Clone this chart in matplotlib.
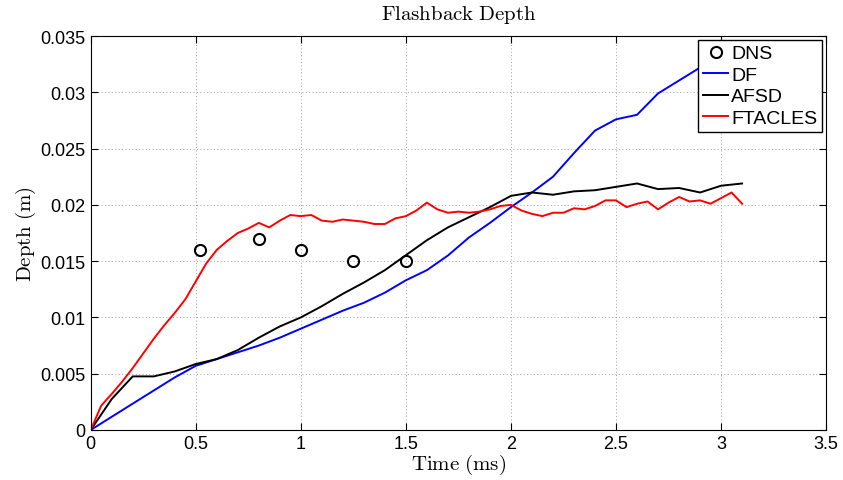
import matplotlib
matplotlib.use("Agg")
import matplotlib.pyplot as plt

plt.rcParams['font.family'] = ['Liberation Sans', 'DejaVu Sans']
plt.rcParams['mathtext.fontset'] = 'cm'

# DNS reference points
dns_t = [0.52, 0.80, 1.00, 1.25, 1.50]
dns_d = [0.016, 0.017, 0.016, 0.015, 0.015]

# DF
df_t = [0, 0.2, 0.4, 0.5, 0.6, 0.7, 0.8, 0.9, 1.0, 1.1, 1.2, 1.3, 1.4, 1.5,
        1.6, 1.7, 1.8, 1.9, 2.0, 2.1, 2.2, 2.3, 2.4, 2.5, 2.6, 2.7, 2.9]
df_d = [0, 0.00234, 0.00467, 0.0057, 0.0063, 0.0069, 0.0075, 0.0082, 0.0090,
        0.0098, 0.0106, 0.0113, 0.0122, 0.0133, 0.0142, 0.0155, 0.0171,
        0.0184, 0.0198, 0.0211, 0.0225, 0.0246, 0.0266, 0.0276, 0.0280,
        0.0299, 0.0322]

# AFSD
afsd_t = [0, 0.1, 0.2, 0.3, 0.4, 0.5, 0.6, 0.7, 0.8, 0.9, 1.0, 1.1, 1.2, 1.3,
          1.4, 1.5, 1.6, 1.7, 1.8, 1.9, 2.0, 2.1, 2.2, 2.3, 2.4, 2.5, 2.6,
          2.7, 2.8, 2.9, 3.0, 3.1]
afsd_d = [0, 0.00275, 0.00476, 0.00476, 0.0052, 0.00586, 0.0063, 0.0071,
          0.0082, 0.0092, 0.0100, 0.0110, 0.0121, 0.0131, 0.0142, 0.01553,
          0.01686, 0.0180, 0.0189, 0.0198, 0.0208, 0.0211, 0.0209, 0.0212,
          0.0213, 0.0216, 0.0219, 0.0214, 0.0215, 0.0211, 0.0217, 0.0219]

# FTACLES
ft_t = [0, 0.05, 0.1, 0.15, 0.2, 0.25, 0.3, 0.35, 0.4, 0.45, 0.5, 0.55, 0.6,
        0.65, 0.7, 0.75, 0.8, 0.85, 0.9, 0.95, 1.0, 1.05, 1.1, 1.15, 1.2,
        1.25, 1.3, 1.35, 1.4, 1.45, 1.5, 1.55, 1.6, 1.65, 1.7, 1.75, 1.8,
        1.85, 1.9, 1.95, 2.0, 2.05, 2.1, 2.15, 2.2, 2.25, 2.3, 2.35, 2.4,
        2.45, 2.5, 2.55, 2.6, 2.65, 2.7, 2.75, 2.8, 2.85, 2.9, 2.95, 3.0,
        3.05, 3.1]
ft_d = [0, 0.00216, 0.0032, 0.0043, 0.0055, 0.0068, 0.0081, 0.0093, 0.0104,
        0.0116, 0.0132, 0.0148, 0.0160, 0.0168, 0.0175, 0.0179, 0.0184,
        0.0180, 0.0186, 0.0191, 0.0190, 0.0191, 0.0186, 0.0185, 0.0187,
        0.0186, 0.0185, 0.0183, 0.0183, 0.0188, 0.0190, 0.0195, 0.0202,
        0.0196, 0.0193, 0.0194, 0.0193, 0.0194, 0.0196, 0.0199, 0.0200,
        0.0195, 0.0192, 0.0190, 0.0193, 0.0193, 0.0197, 0.0196, 0.0199,
        0.0204, 0.0204, 0.0198, 0.0201, 0.0203, 0.0196, 0.0202, 0.0207,
        0.0203, 0.0204, 0.0201, 0.0206, 0.0211, 0.0201]

xticks = [0, 0.5, 1, 1.5, 2, 2.5, 3, 3.5]
yticks = [0, 0.005, 0.01, 0.015, 0.02, 0.025, 0.03, 0.035]

fig = plt.figure(figsize=(8.43, 4.81), dpi=100)
ax = fig.add_axes([0.1076, 0.104, 0.8724, 0.819])

ax.plot(dns_t, dns_d, 'o', mfc='none', mec='k', ms=8, mew=1.5, label='DNS')
ax.plot(df_t, df_d, color='#0000ff', lw=1.4, label='DF')
ax.plot(afsd_t, afsd_d, color='k', lw=1.4, label='AFSD')
ax.plot(ft_t, ft_d, color='#ff0000', lw=1.4, label='FTACLES')

ax.set_xlim(0, 3.5)
ax.set_ylim(0, 0.035)
ax.set_xticks(xticks)
ax.set_yticks(yticks)
ax.set_xticklabels(['%g' % v for v in xticks])
ax.set_yticklabels(['%g' % v for v in yticks])
ax.tick_params(direction='in', top=True, right=True, labelsize=13, length=5)
ax.grid(True, linestyle=(0, (1, 2.5)), color='#a0a0a0', lw=0.7)

ax.set_title(r'$\mathrm{Flashback\ Depth}$', fontsize=15, pad=12)
ax.set_xlabel(r'$\mathrm{Time\ (ms)}$', fontsize=15, labelpad=0)
ax.set_ylabel(r'$\mathrm{Depth\ (m)}$', fontsize=15, labelpad=2)

leg = ax.legend(loc='upper right', fontsize=14, handlelength=1.3,
                handletextpad=0.15, borderpad=0.25, labelspacing=0.2,
                borderaxespad=0.2, fancybox=False, framealpha=1)
leg.get_frame().set_edgecolor('k')
leg.get_frame().set_linewidth(1.0)

fig.savefig('out.png', dpi=100)
